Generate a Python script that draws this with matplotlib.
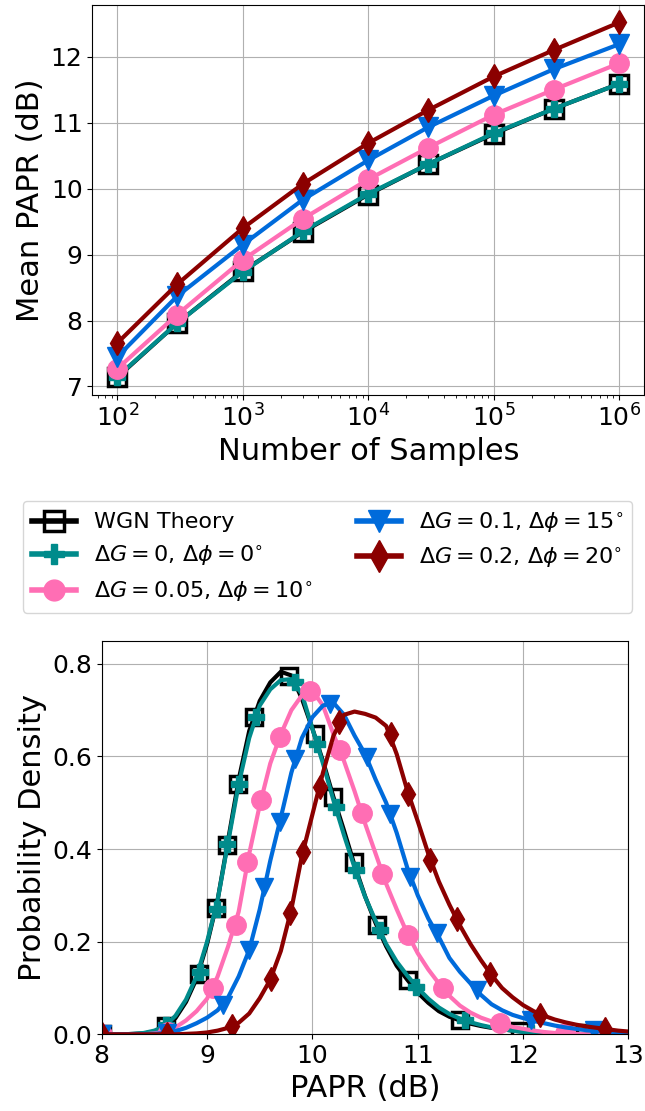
import matplotlib
matplotlib.use('Agg')
import matplotlib.pyplot as plt
from matplotlib.lines import Line2D
import numpy as np

plt.rcParams['font.family'] = 'DejaVu Sans'
plt.rcParams['mathtext.fontset'] = 'dejavusans'

labels = ['WGN Theory',
          r'$\Delta G=0$, $\Delta \phi=0^{\circ}$',
          r'$\Delta G=0.05$, $\Delta \phi=10^{\circ}$',
          r'$\Delta G=0.1$, $\Delta \phi=15^{\circ}$',
          r'$\Delta G=0.2$, $\Delta \phi=20^{\circ}$']
colors = ['black', '#008b8b', '#ff6eb4', '#006bdb', '#8b0000']
markers = ['s', 'P', 'o', 'v', 'd']

# --- top: mean PAPR vs number of samples
n_samples = [1e2, 3e2, 1e3, 3e3, 1e4, 3e4, 1e5, 3e5, 1e6]
mean_wgn = [7.14, 7.96, 8.75, 9.34, 9.91, 10.37, 10.83, 11.21, 11.59]
mean_g0 = [7.15, 7.96, 8.74, 9.35, 9.92, 10.37, 10.84, 11.21, 11.59]
mean_g005 = [7.27, 8.09, 8.92, 9.54, 10.14, 10.62, 11.12, 11.50, 11.90]
mean_g01 = [7.45, 8.37, 9.15, 9.83, 10.43, 10.93, 11.41, 11.81, 12.19]
mean_g02 = [7.66, 8.55, 9.40, 10.07, 10.69, 11.19, 11.70, 12.10, 12.52]

# --- bottom: PAPR density, read every 0.1 dB from 8 to 13
papr = np.round(np.arange(8.0, 13.05, 0.1), 1)
pdf_wgn = [0, 0, 0, 0.001, 0.002, 0.006, 0.015, 0.035, 0.07, 0.12,
           0.195, 0.29, 0.42, 0.55, 0.655, 0.72, 0.76, 0.783, 0.775, 0.725,
           0.66, 0.59, 0.512, 0.44, 0.365, 0.298, 0.24, 0.19, 0.148, 0.118,
           0.09, 0.068, 0.05, 0.038, 0.03, 0.023, 0.018, 0.014, 0.011, 0.008,
           0.006, 0.004, 0.003, 0.002, 0.001, 0.001, 0.001, 0, 0, 0,
           0]
pdf_g0 = [0, 0, 0, 0.001, 0.003, 0.008, 0.018, 0.04, 0.075, 0.125,
          0.2, 0.29, 0.415, 0.54, 0.64, 0.71, 0.745, 0.765, 0.767, 0.735,
          0.66, 0.585, 0.505, 0.43, 0.36, 0.297, 0.245, 0.195, 0.157, 0.127,
          0.1, 0.077, 0.058, 0.044, 0.034, 0.026, 0.02, 0.015, 0.011, 0.008,
          0.005, 0.003, 0.002, 0.001, 0.001, 0, 0, 0, 0, 0,
          0]
pdf_g005 = [0, 0, 0, 0, 0, 0.002, 0.006, 0.015, 0.03, 0.05,
            0.077, 0.125, 0.19, 0.265, 0.39, 0.495, 0.585, 0.648, 0.7, 0.732,
            0.742, 0.71, 0.648, 0.59, 0.525, 0.455, 0.39, 0.325, 0.27, 0.218,
            0.175, 0.14, 0.11, 0.083, 0.062, 0.047, 0.036, 0.028, 0.022, 0.016,
            0.012, 0.008, 0.005, 0.003, 0.002, 0.001, 0, 0, 0, 0,
            0]
pdf_g01 = [0, 0, 0, 0, 0, 0.001, 0.003, 0.007, 0.014, 0.024,
           0.036, 0.052, 0.08, 0.125, 0.182, 0.27, 0.375, 0.468, 0.565, 0.64,
           0.685, 0.71, 0.716, 0.69, 0.645, 0.605, 0.55, 0.5, 0.435, 0.36,
           0.3, 0.25, 0.21, 0.165, 0.135, 0.11, 0.085, 0.065, 0.052, 0.042,
           0.035, 0.029, 0.024, 0.019, 0.015, 0.012, 0.009, 0.007, 0.005, 0.003,
           0.002]
pdf_g02 = [0, 0, 0, 0, 0, 0, 0, 0, 0.001, 0.002,
           0.004, 0.008, 0.014, 0.025, 0.045, 0.078, 0.118, 0.18, 0.27, 0.385,
           0.475, 0.565, 0.645, 0.69, 0.697, 0.692, 0.684, 0.666, 0.605, 0.527,
           0.46, 0.39, 0.33, 0.28, 0.235, 0.195, 0.16, 0.128, 0.1, 0.08,
           0.063, 0.05, 0.04, 0.032, 0.026, 0.021, 0.017, 0.014, 0.011, 0.008,
           0.006]

# marker positions along the density curves
mk_wgn_x = [8.0, 8.61, 8.92, 9.085, 9.19, 9.29, 9.45, 9.78, 10.02, 10.2, 10.39, 10.61, 10.91, 11.4, 11.97, 12.59]
mk_wgn_y = [0.0, 0.018, 0.131, 0.272, 0.408, 0.541, 0.686, 0.774, 0.649, 0.512, 0.372, 0.236, 0.117, 0.031, 0.007, 0.002]
mk_g0_x = [8.0, 8.61, 8.93, 9.09, 9.19, 9.3, 9.46, 9.83, 10.04, 10.22, 10.41, 10.64, 10.98, 11.45, 12.07, 12.7]
mk_g0_y = [0.0, 0.02, 0.135, 0.27, 0.41, 0.54, 0.686, 0.76, 0.627, 0.49, 0.354, 0.225, 0.103, 0.031, 0.003, 0.0]
mk_g005_x = [8.0, 8.63, 9.06, 9.27, 9.38, 9.51, 9.69, 9.98, 10.26, 10.47, 10.66, 10.91, 11.24, 11.78, 12.4]
mk_g005_y = [0.0, 0.006, 0.099, 0.236, 0.372, 0.506, 0.642, 0.742, 0.613, 0.478, 0.347, 0.214, 0.099, 0.024, 0.002]
mk_g01_x = [8.0, 8.62, 9.15, 9.4, 9.54, 9.69, 9.83, 10.17, 10.52, 10.74, 10.93, 11.18, 11.56, 12.07, 12.67]
mk_g01_y = [0.0, 0.003, 0.063, 0.182, 0.318, 0.458, 0.595, 0.713, 0.598, 0.476, 0.34, 0.218, 0.096, 0.031, 0.01]
mk_g02_x = [8.0, 8.62, 9.24, 9.61, 9.79, 9.91, 10.07, 10.25, 10.75, 10.91, 11.12, 11.37, 11.69, 12.16, 12.78]
mk_g02_y = [0.0, 0.0, 0.017, 0.12, 0.261, 0.394, 0.534, 0.674, 0.649, 0.519, 0.376, 0.25, 0.131, 0.042, 0.012]

means = [mean_wgn, mean_g0, mean_g005, mean_g01, mean_g02]
pdfs = [pdf_wgn, pdf_g0, pdf_g005, pdf_g01, pdf_g02]
mk_x = [mk_wgn_x, mk_g0_x, mk_g005_x, mk_g01_x, mk_g02_x]
mk_y = [mk_wgn_y, mk_g0_y, mk_g005_y, mk_g01_y, mk_g02_y]

ms_top = [13, 11, 14, 14, 12]
ms_bot = [12, 12, 14, 13, 12]
ms_leg = [15, 14, 15, 16, 16]


def marker_style(i, ms):
    if i == 0:
        return dict(marker='s', ms=ms, mfc='none', mec='black', mew=2.5)
    return dict(marker=markers[i], ms=ms, mfc=colors[i], mec=colors[i], mew=1)


fig = plt.figure(figsize=(6.45, 11.11), dpi=100)
ax1 = fig.add_axes([0.1431, 0.6445, 0.8558, 0.3513])
ax2 = fig.add_axes([0.1577, 0.0690, 0.8167, 0.3543])

for i in range(5):
    ax1.plot(n_samples, means[i], color=colors[i], lw=3, **marker_style(i, ms_top[i]))
ax1.set_xscale('log')
ax1.set_yticks([7, 8, 9, 10, 11, 12])
ax1.grid(True)
ax1.set_xlabel('Number of Samples', fontsize=22)
ax1.set_ylabel('Mean PAPR (dB)', fontsize=22)
ax1.tick_params(labelsize=18)

for i in range(5):
    ax2.plot(papr, pdfs[i], color=colors[i], lw=3)
    ax2.plot(mk_x[i], mk_y[i], ls='none', **marker_style(i, ms_bot[i]))
ax2.set_xlim(8, 13)
ax2.set_ylim(0, 0.85)
ax2.set_yticks([0, 0.2, 0.4, 0.6, 0.8])
ax2.grid(True)
ax2.set_xlabel('PAPR (dB)', fontsize=22)
ax2.set_ylabel('Probability Density', fontsize=22)
ax2.tick_params(labelsize=18)

handles = [Line2D([], [], color=colors[i], lw=4, **marker_style(i, ms_leg[i])) for i in range(5)]
fig.legend(handles, labels, loc='center', bbox_to_anchor=(0.5078, 0.4987),
           ncol=2, fontsize=16)

fig.savefig('out.png', dpi=100)
